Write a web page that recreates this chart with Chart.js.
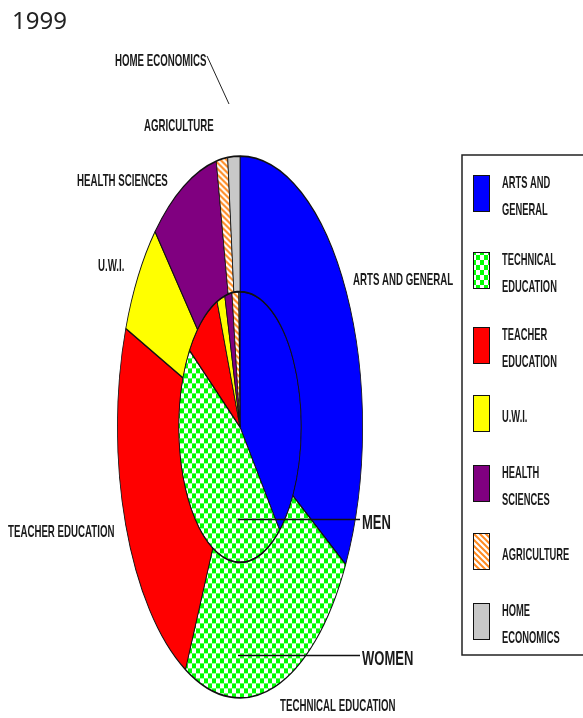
<!DOCTYPE html>
<html>
<head>
<meta charset="utf-8">
<script src="https://cdn.jsdelivr.net/npm/chart.js@4"></script>
<style>
  html, body { margin: 0; padding: 0; background: #fff; }
  #wrap { width: 583px; height: 718px; }
</style>
</head>
<body>
<div id="wrap"><canvas id="pieChart" width="583" height="718"></canvas></div>
<script>
// categories (same order as the slices, clockwise from 12 o'clock)
const categories = ['ARTS AND GENERAL', 'TECHNICAL EDUCATION', 'TEACHER EDUCATION', 'U.W.I.',
                    'HEALTH SCIENCES', 'AGRICULTURE', 'HOME ECONOMICS'];
// share of students, %
const women = [33.5, 23.9, 23.6, 6.9, 9.1, 1.5, 1.6];
const men = [38.8, 45.8, 9.3, 2.1, 1.9, 1.8, 0.3];
const seriesNames = ['WOMEN', 'MEN'];
const titleText = '1999';

// the original pie is drawn squashed into a tall ellipse
const K = 2.21;

// fills
function checkPattern(stretch) {
  const c = document.createElement('canvas');
  c.width = 8; c.height = 10;
  const g = c.getContext('2d');
  g.fillStyle = '#fff'; g.fillRect(0, 0, 8, 10);
  g.fillStyle = '#00ff00';
  g.fillRect(0, 0, 4, 5); g.fillRect(4, 5, 4, 5);
  const p = g.createPattern(c, 'repeat');
  if (stretch) p.setTransform(new DOMMatrix().scale(1, 1 / K));
  return p;
}
function hatchPattern(stretch) {
  const c = document.createElement('canvas');
  c.width = 6; c.height = 6;
  const g = c.getContext('2d');
  g.fillStyle = '#fff'; g.fillRect(0, 0, 6, 6);
  g.strokeStyle = '#ff8a20'; g.lineWidth = 2;
  g.beginPath();
  g.moveTo(-1, -1); g.lineTo(7, 7);
  g.moveTo(-1, 5); g.lineTo(1, 7);
  g.moveTo(5, -1); g.lineTo(7, 1);
  g.stroke();
  const p = g.createPattern(c, 'repeat');
  if (stretch) p.setTransform(new DOMMatrix().scale(1, 1 / K));
  return p;
}
function fills(stretch) {
  return ['#0000ff', checkPattern(stretch), '#ff0000', '#ffff00', '#800080', hatchPattern(stretch), '#c8c8c8'];
}
const pieFills = fills(true);
const keyFills = fills(false);

// text helper: condensed labels like the original
function label(ctx, s, x, y, size, sx) {
  ctx.save();
  ctx.font = 'bold ' + size + 'px "Liberation Sans", Arial, sans-serif';
  ctx.fillStyle = '#1a1a1a';
  ctx.textBaseline = 'middle';
  ctx.translate(x, y);
  ctx.scale(sx, 1);
  ctx.fillText(s, 0, 0);
  ctx.restore();
}

// where the slice names sit round the pie
const namePos = [[353, 280], [280, 706], [8, 532], [98, 266], [77, 181], [144, 126], [115, 61]];
// legend rows: swatch top
const keyTops = [175, 252, 327, 395, 465, 533, 603];

const stretchPlugin = {
  id: 'stretch',
  beforeDatasetsDraw(chart) {
    const a = chart.chartArea, ctx = chart.ctx;
    const cx = (a.left + a.right) / 2, cy = (a.top + a.bottom) / 2;
    ctx.save();
    ctx.translate(cx, cy);
    ctx.scale(1, K);
    ctx.translate(-cx, -cy);
  },
  afterDatasetsDraw(chart) {
    chart.ctx.restore();
  }
};

const decorPlugin = {
  id: 'decor',
  afterDraw(chart) {
    const ctx = chart.ctx;
    const a = chart.chartArea;
    const cx = (a.left + a.right) / 2, cy = (a.top + a.bottom) / 2;
    const r = chart.getDatasetMeta(0).controller.outerRadius;

    // title
    ctx.save();
    ctx.font = '24px "Noto Sans", "Open Sans", sans-serif';
    ctx.fillStyle = '#222';
    ctx.textBaseline = 'alphabetic';
    ctx.fillText(titleText, 12, 29);
    ctx.restore();

    // slice names
    categories.forEach((c, i) => label(ctx, c, namePos[i][0], namePos[i][1], 17, 0.57));

    // leader line for HOME ECONOMICS
    ctx.save();
    ctx.strokeStyle = '#222'; ctx.lineWidth = 1;
    ctx.beginPath(); ctx.moveTo(207, 56); ctx.lineTo(229, 104); ctx.stroke();
    ctx.restore();

    // MEN / WOMEN pointers
    const ringY = [cy + r * K * 0.84, cy + r * K * 0.34];
    ctx.save();
    ctx.strokeStyle = '#111'; ctx.lineWidth = 1.5;
    seriesNames.forEach((s, i) => {
      const y = Math.round(ringY[i]) + 0.5;
      ctx.beginPath(); ctx.moveTo(cx - 2, y); ctx.lineTo(360, y); ctx.stroke();
      label(ctx, s, 362, y + 4, 20, 0.65);
    });
    ctx.restore();

    // legend box
    ctx.save();
    ctx.strokeStyle = '#222'; ctx.lineWidth = 1.5;
    ctx.strokeRect(462, 155, 140, 500);
    categories.forEach((c, i) => {
      const t = keyTops[i];
      ctx.fillStyle = keyFills[i];
      ctx.fillRect(473, t, 17, 37);
      ctx.strokeStyle = '#111'; ctx.lineWidth = 1;
      ctx.strokeRect(473.5, t + 0.5, 16, 36);
      const k = c.lastIndexOf(' ');
      if (k < 0) {
        label(ctx, c, 502, t + 22, 17, 0.55);
      } else {
        label(ctx, c.slice(0, k), 502, t + 8, 17, 0.55);
        label(ctx, c.slice(k + 1), 502, t + 35, 17, 0.55);
      }
    });
    ctx.restore();
  }
};

new Chart(document.getElementById('pieChart'), {
  type: 'doughnut',
  data: {
    labels: categories,
    datasets: [
      { label: seriesNames[0], data: women, backgroundColor: pieFills, borderColor: '#111', borderWidth: 0.8, clip: false },
      { label: seriesNames[1], data: men, backgroundColor: pieFills, borderColor: '#111', borderWidth: 0.8, clip: false }
    ]
  },
  options: {
    responsive: false,
    animation: false,
    events: [],
    cutout: 0,
    layout: { padding: { left: 117, right: 220, top: 304, bottom: 168 } },
    plugins: { legend: { display: false }, tooltip: { enabled: false }, title: { display: false } }
  },
  plugins: [stretchPlugin, decorPlugin]
});
</script>
</body>
</html>
